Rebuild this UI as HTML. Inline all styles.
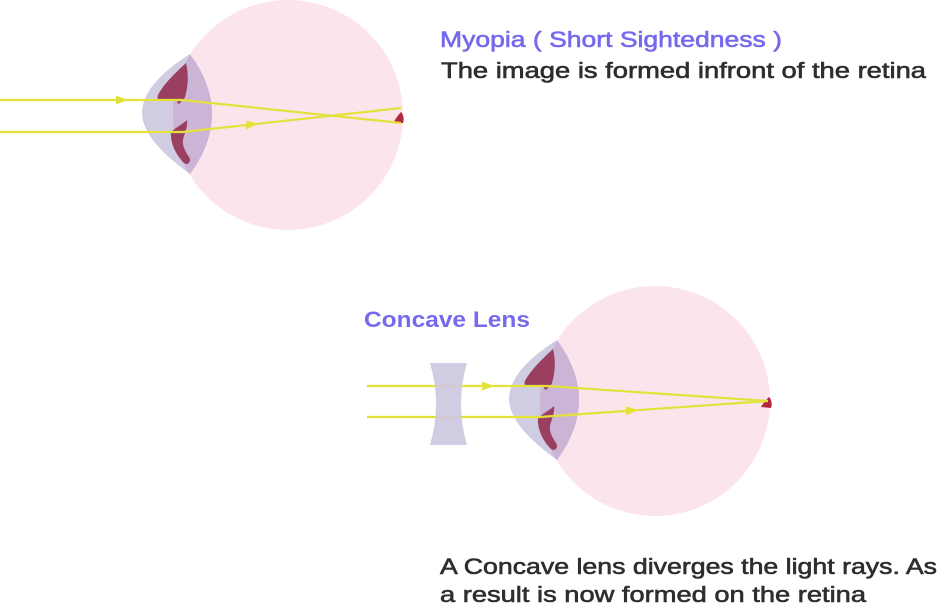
<!DOCTYPE html>
<html>
<head>
<meta charset="utf-8">
<style>
  html,body{margin:0;padding:0;background:#fff;}
  svg{display:block;}
  .t{font-family:"Liberation Sans",sans-serif;font-size:22.5px;}
</style>
</head>
<body>
<svg width="939" height="606" viewBox="0 0 939 606" xmlns="http://www.w3.org/2000/svg">
  <defs>
    <clipPath id="c1"><circle cx="288" cy="115" r="115"/></clipPath>
    <g id="eye">
      <circle cx="288" cy="115" r="115" fill="#fce4ec"/>
      <path d="M190,54 C168,68 143,88 142,112 C142,136 168,158 190,174 Q234,114 190,54 Z" fill="#d0cde3"/>
      <path d="M190,54 C168,68 143,88 142,112 C142,136 168,158 190,174 Q234,114 190,54 Z" fill="#cbb4d6" clip-path="url(#c1)"/>
      <path d="M186,63 C175,73 163,85 158,95 C156,100 160,101 166,101 L177,101 C177,103 179,105 180,103 C181,101 184,100 185,97 C188,87 189,75 186,63 Z" fill="#9b3f61"/>
      <path d="M187,120 C183,124 175,128 171,132 C170,144 177,156 184,163 C188,166 192,161 189,157 C185,151 182,145 183,140 C184,134 188,128 187,120 Z" fill="#9b3f61"/>
    </g>
  </defs>

  <!-- Eye 1 -->
  <use href="#eye"/>
  <path d="M393,123 C396,118 399,114 401,112 C404,115 404,120 403,123 Z" fill="#b1283f"/>
  <g stroke="#e3e23a" stroke-width="2.2" fill="none">
    <path d="M0,100 L182,100 L401,123"/>
    <path d="M0,132 L183,132 L401,108"/>
  </g>
  <polygon points="116,95.5 128,100 116,104.5" fill="#e3e23a"/>
  <polygon points="246,129.6 258,123.6 246.6,120.6" fill="#e3e23a"/>

  <!-- Eye 2 -->
  <use href="#eye" transform="translate(367,286)"/>
  <path d="M761,407 C764,402 767,399 769,397 C772,400 772,405 771,408 Z" fill="#b1283f"/>
  <g stroke="#e3e23a" stroke-width="2.2" fill="none">
    <path d="M367,386 L547,386 L768,401"/>
    <path d="M367,417 L540,417 L768,401"/>
  </g>
  <polygon points="482,381.5 494,386 482,390.5" fill="#e3e23a"/>
  <polygon points="626,415.3 638,410 626,406.3" fill="#e3e23a"/>

  <!-- Concave lens -->
  <path d="M430,363 L467,363 Q455,404 467,445 L430,445 Q442,404 430,363 Z" fill="#cdc6df" opacity="0.9"/>

  <!-- Text -->
  <text class="t" x="440" y="47" fill="#7669ee" stroke="#7669ee" stroke-width="0.6" textLength="342" lengthAdjust="spacingAndGlyphs">Myopia ( Short Sightedness )</text>
  <text class="t" x="441" y="78" fill="#2e2e2e" stroke="#2e2e2e" stroke-width="0.6" textLength="485" lengthAdjust="spacingAndGlyphs">The image is formed infront of the retina</text>
  <text class="t" x="364" y="327" fill="#7669ee" font-weight="bold" textLength="166" lengthAdjust="spacingAndGlyphs">Concave Lens</text>
  <text class="t" x="440" y="574" fill="#2e2e2e" stroke="#2e2e2e" stroke-width="0.6" textLength="497" lengthAdjust="spacingAndGlyphs">A Concave lens diverges the light rays. As</text>
  <text class="t" x="440" y="602" fill="#2e2e2e" stroke="#2e2e2e" stroke-width="0.6" textLength="426" lengthAdjust="spacingAndGlyphs">a result is now formed on the retina</text>
</svg>
</body>
</html>
